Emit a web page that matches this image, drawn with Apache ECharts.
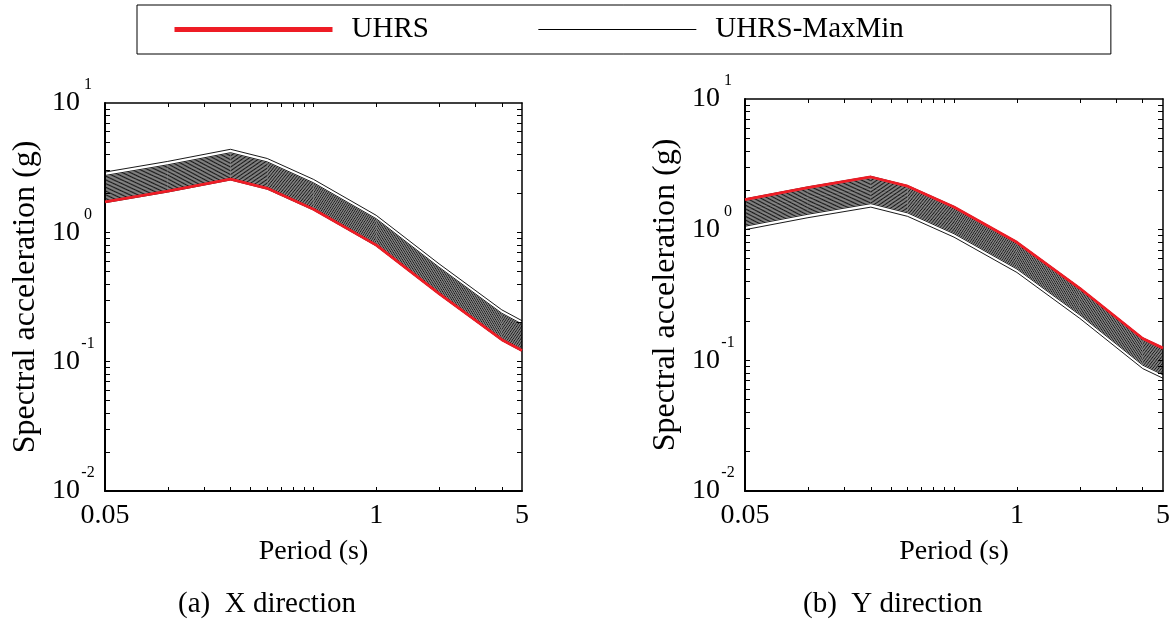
<!DOCTYPE html>
<html>
<head>
<meta charset="utf-8">
<script src="https://cdn.jsdelivr.net/npm/echarts@6/dist/echarts.min.js"></script>
<style>
  html, body { margin: 0; padding: 0; background: #fff; }
  #main { width: 1176px; height: 622px; }
</style>
</head>
<body>
<div id="main"></div>
<script>
// periods (s) where the spectra are defined
var periods = [0.05, 0.1, 0.2, 0.3, 0.5, 1, 2, 4, 5];
// UHRS, spectral acceleration (g)
var uhrsX = [1.72, 2.08, 2.58, 2.19, 1.51, 0.796, 0.336, 0.148, 0.122];
var uhrsY = [1.70, 2.10, 2.53, 2.15, 1.49, 0.80, 0.356, 0.147, 0.124];
// UHRS-MaxMin records, read as ratio to the UHRS
var scaleX = [1.70, 1.60, 1.563, 1.526, 1.489, 1.454, 1.419, 1.385, 1.351, 1.319, 1.287, 1.256,
              1.226, 1.197, 1.168, 1.14, 1.112, 1.086, 1.06, 1.034, 1.009, 0.985];
var scaleY = [0.588, 0.625, 0.64, 0.656, 0.672, 0.688, 0.705, 0.722, 0.74, 0.758, 0.776, 0.795,
              0.815, 0.834, 0.855, 0.876, 0.897, 0.919, 0.941, 0.964, 0.988, 1.012];
// axis ticks and labels
var xTicks = [0.1, 0.15, 0.2, 0.25, 0.3, 0.35, 0.4, 0.45, 0.5, 1, 2, 3, 4];
var xLabels = [0.05, 1, 5];
var yTicks = [0.02, 0.03, 0.04, 0.05, 0.06, 0.07, 0.08, 0.09, 0.1,
              0.2, 0.3, 0.4, 0.5, 0.6, 0.7, 0.8, 0.9, 1,
              2, 3, 4, 5, 6, 7, 8, 9];
var yLabels = [0.01, 0.1, 1, 10];

var font = 'Liberation Serif';
var red = '#ee1c25';

var myChart = echarts.init(document.getElementById('main'));

function xAxisOf(g, pos) {
    var bottom = pos === 'bottom';
    return {
        type: 'log', logBase: 10, gridIndex: g, position: pos, min: 0.05, max: 5,
        name: bottom ? 'Period (s)' : '', nameLocation: 'middle', nameGap: 47,
        nameTextStyle: { fontFamily: font, fontSize: 28, color: '#000' },
        axisLine: { onZero: false, lineStyle: { color: '#000', width: bottom ? 2 : 1.5 } },
        axisTick: { show: true, inside: true, length: 4, customValues: xTicks,
                    lineStyle: { color: '#000', width: 1 } },
        axisLabel: { show: bottom, customValues: xLabels, margin: 11,
                     fontFamily: font, fontSize: 28, color: '#000',
                     formatter: function (v) { return String(+v.toPrecision(3)); } },
        splitLine: { show: false }
    };
}

function yAxisOf(g, pos) {
    var left = pos === 'left';
    return {
        type: 'log', logBase: 10, gridIndex: g, position: pos, min: 0.01, max: 10,
        name: left ? 'Spectral acceleration (g)' : '', nameLocation: 'middle', nameGap: 63,
        nameTextStyle: { fontFamily: font, fontSize: 32, color: '#000' },
        axisLine: { onZero: false, lineStyle: { color: '#000', width: left ? 2 : 1.5 } },
        axisTick: { show: true, inside: true, length: 5, customValues: yTicks,
                    lineStyle: { color: '#000', width: 1 } },
        axisLabel: {
            show: left, customValues: yLabels, margin: 9,
            formatter: function (v) {
                var e = Math.round(Math.log(v) / Math.LN10);
                return '{a|10}{b|' + e + '}';
            },
            rich: {
                a: { fontFamily: font, fontSize: 28, color: '#000' },
                b: { fontFamily: font, fontSize: 16, color: '#000', width: 16, align: 'left',
                     padding: [0, 0, 36, 0] }
            }
        },
        splitLine: { show: false }
    };
}

var series = [];
function addSpectra(xi, yi, base, factors) {
    factors.forEach(function (f) {
        series.push({
            name: 'UHRS-MaxMin', type: 'line', xAxisIndex: xi, yAxisIndex: yi,
            symbol: 'none', z: 2, silent: true,
            itemStyle: { color: '#000' },
            lineStyle: { color: '#000', width: 0.9 },
            data: periods.map(function (p, i) { return [p, base[i] * f]; })
        });
    });
    series.push({
        name: 'UHRS', type: 'line', xAxisIndex: xi, yAxisIndex: yi,
        symbol: 'none', z: 3, silent: true,
        itemStyle: { color: red },
        lineStyle: { color: red, width: 2.8 },
        data: periods.map(function (p, i) { return [p, base[i]]; })
    });
}
addSpectra(0, 0, uhrsX, scaleX);
addSpectra(2, 2, uhrsY, scaleY);

var option = {
    animation: false,
    backgroundColor: '#fff',
    title: [
        { text: '(a)  X direction', left: 173, top: 585,
          textStyle: { fontFamily: font, fontSize: 29, fontWeight: 'normal', color: '#000' } },
        { text: '(b)  Y direction', left: 798, top: 585,
          textStyle: { fontFamily: font, fontSize: 29, fontWeight: 'normal', color: '#000' } }
    ],
    legend: {
        left: 137, top: 5,
        padding: [10, 207, 10, 35],
        itemWidth: 158, itemHeight: 14, itemGap: 109,
        borderColor: '#000', borderWidth: 1,
        textStyle: { fontFamily: font, fontSize: 29, color: '#000', lineHeight: 28,
                     padding: [0, 0, 0, 14] },
        data: [
            { name: 'UHRS', itemStyle: { opacity: 0 }, lineStyle: { width: 5, color: red } },
            { name: 'UHRS-MaxMin', itemStyle: { opacity: 0 }, lineStyle: { width: 1, color: '#000' } }
        ]
    },
    grid: [
        { left: 105, top: 103, width: 417, height: 388 },
        { left: 745, top: 99, width: 418, height: 392 }
    ],
    xAxis: [xAxisOf(0, 'bottom'), xAxisOf(0, 'top'), xAxisOf(1, 'bottom'), xAxisOf(1, 'top')],
    yAxis: [yAxisOf(0, 'left'), yAxisOf(0, 'right'), yAxisOf(1, 'left'), yAxisOf(1, 'right')],
    series: series
};
myChart.setOption(option);
</script>
</body>
</html>
